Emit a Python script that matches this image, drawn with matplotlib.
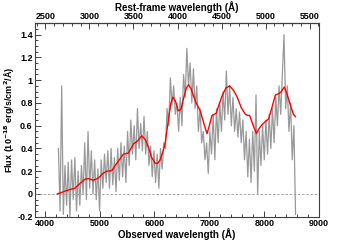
import numpy as np
import matplotlib
matplotlib.use('Agg')
import matplotlib.pyplot as plt
from matplotlib.ticker import MultipleLocator

plt.rcParams['font.family'] = ['Liberation Sans', 'DejaVu Sans']
plt.rcParams['font.weight'] = 'bold'

# redshift linking observed and rest-frame axes
z = 0.605

# observed spectrum (grey), sampled every 30 A
spec_wave = np.arange(4250, 8600, 30)
spec_flux = [
    0.40, -0.15, 0.95, -0.18, 0.25, -0.10, 0.28, -0.20, 0.30, -0.05,
    0.32, -0.15, 0.20, -0.10, 0.25, 0.00, 0.45, -0.05, 0.55, 0.05,
    0.38, 0.00, 0.30, -0.05, 0.22, -0.15, 0.30, 0.05, 0.35, 0.10,
    0.38, 0.05, 0.40, 0.08, 0.32, 0.02, 0.40, 0.12, 0.45, 0.15,
    0.42, 0.10, 0.55, 0.25, 0.65, 0.35, 0.60, 0.30, 0.75, 0.40,
    0.62, 0.38, 0.68, 0.35, 0.55, 0.25, 0.42, 0.15, 0.38, 0.10,
    0.35, 0.05, 0.40, 0.22, 0.45, 0.40, 0.75, 0.60, 1.02, 0.78,
    0.95, 0.70, 0.80, 0.55, 0.85, 0.60, 1.05, 0.85, 1.28, 0.95,
    1.15, 0.80, 1.10, 0.75, 0.95, 0.55, 0.75, 0.45, 0.55, 0.30,
    0.45, 0.18, 0.55, 0.35, 0.70, 0.30, 0.75, 0.45, 0.80, 0.55,
    0.90, 0.65, 1.08, 0.70, 0.95, 0.60, 0.85, 0.55, 0.75, 0.50,
    0.72, 0.45, 0.65, 0.30, 0.55, 0.15, 0.48, 0.10, 0.55, 0.20,
    0.87, 0.00, 0.55, 0.25, 0.60, 0.30, 0.65, 0.35, 0.70, 0.40,
    0.75, 0.45, 0.85, 0.60, 0.95, 0.70, 1.05, 1.40, 0.75, 0.95,
    0.55, 0.80, 0.30, 0.60, -0.18,
]

# smoothed model (red)
model_wave = [4230, 4400, 4550, 4640, 4735, 4800, 4887, 4978, 5060, 5131,
              5222, 5314, 5435, 5526, 5617, 5679, 5770, 5830, 5891, 5950,
              6013, 6060, 6104, 6160, 6196, 6256, 6300, 6336, 6378, 6438,
              6480, 6530, 6580, 6621, 6670, 6712, 6760, 6834, 6900, 6956,
              7000, 7048, 7090, 7126, 7180, 7230, 7300, 7369, 7440, 7504,
              7580, 7656, 7700, 7734, 7800, 7856, 7900, 7960, 8030, 8081,
              8140, 8203, 8250, 8294, 8367, 8420, 8477, 8530, 8568]
model_flux = [0.00, 0.03, 0.05, 0.09, 0.13, 0.135, 0.12, 0.14, 0.18, 0.20,
              0.205, 0.27, 0.35, 0.36, 0.44, 0.46, 0.51, 0.48, 0.41, 0.32,
              0.27, 0.27, 0.30, 0.38, 0.45, 0.66, 0.80, 0.85, 0.82, 0.73,
              0.74, 0.84, 0.93, 0.96, 0.92, 0.86, 0.80, 0.73, 0.62, 0.53,
              0.60, 0.69, 0.70, 0.71, 0.79, 0.86, 0.93, 0.95, 0.91, 0.855,
              0.76, 0.70, 0.69, 0.69, 0.60, 0.53, 0.57, 0.61, 0.64, 0.66,
              0.76, 0.87, 0.88, 0.89, 0.94, 0.87, 0.78, 0.70, 0.68]

rest_ticks = [2500, 3000, 3500, 4000, 4500, 5000, 5500]
obs_ticks = [4000, 5000, 6000, 7000, 8000, 9000]
y_ticks = [-0.2, 0, 0.2, 0.4, 0.6, 0.8, 1, 1.2, 1.4]
y_labels = ['-0.2', '0', '0.2', '0.4', '0.6', '0.8', '1', '1.2', '1.4']

fig = plt.figure(figsize=(3.55, 2.4), dpi=100)
ax = fig.add_axes([0.098, 0.097, 0.801, 0.806])

ax.axhline(0, color='0.6', lw=0.6, ls=(0, (3, 2)))
ax.plot(spec_wave, spec_flux, color='0.6', lw=0.9)
ax.plot(model_wave, model_flux, color='red', lw=1.0)

ax.set_xlim(3820, 9000)
ax.set_ylim(-0.2, 1.5)

ax.set_xticks(obs_ticks)
ax.xaxis.set_minor_locator(MultipleLocator(200))
ax.set_yticks(y_ticks)
ax.set_yticklabels(y_labels)
ax.yaxis.set_minor_locator(MultipleLocator(0.05))
ax.tick_params(which='both', direction='in', labelsize=6.5, pad=1.5, width=0.7, color='0.25')
ax.tick_params(which='major', length=4)
ax.tick_params(which='minor', length=2.5)
for s in ax.spines.values():
    s.set_linewidth(0.8)
    s.set_color('0.25')

ax.set_xlabel('Observed wavelength (Å)', fontsize=7, fontweight='bold', labelpad=0)
ax.set_ylabel('Flux (10$^{-18}$ erg/s/cm$^2$/Å)', fontsize=6.5, fontweight='bold', labelpad=0)

top = ax.secondary_xaxis('top', functions=(lambda w: w / (1 + z), lambda r: r * (1 + z)))
top.set_xticks(rest_ticks)
top.xaxis.set_minor_locator(MultipleLocator(100))
top.tick_params(which='both', direction='in', labelsize=6.5, pad=1.5, width=0.7, color='0.25')
top.tick_params(which='major', length=4)
top.tick_params(which='minor', length=2.5)
top.set_xlabel('Rest-frame wavelength (Å)', fontsize=7, fontweight='bold', labelpad=1)

fig.savefig('out.png', dpi=100)
